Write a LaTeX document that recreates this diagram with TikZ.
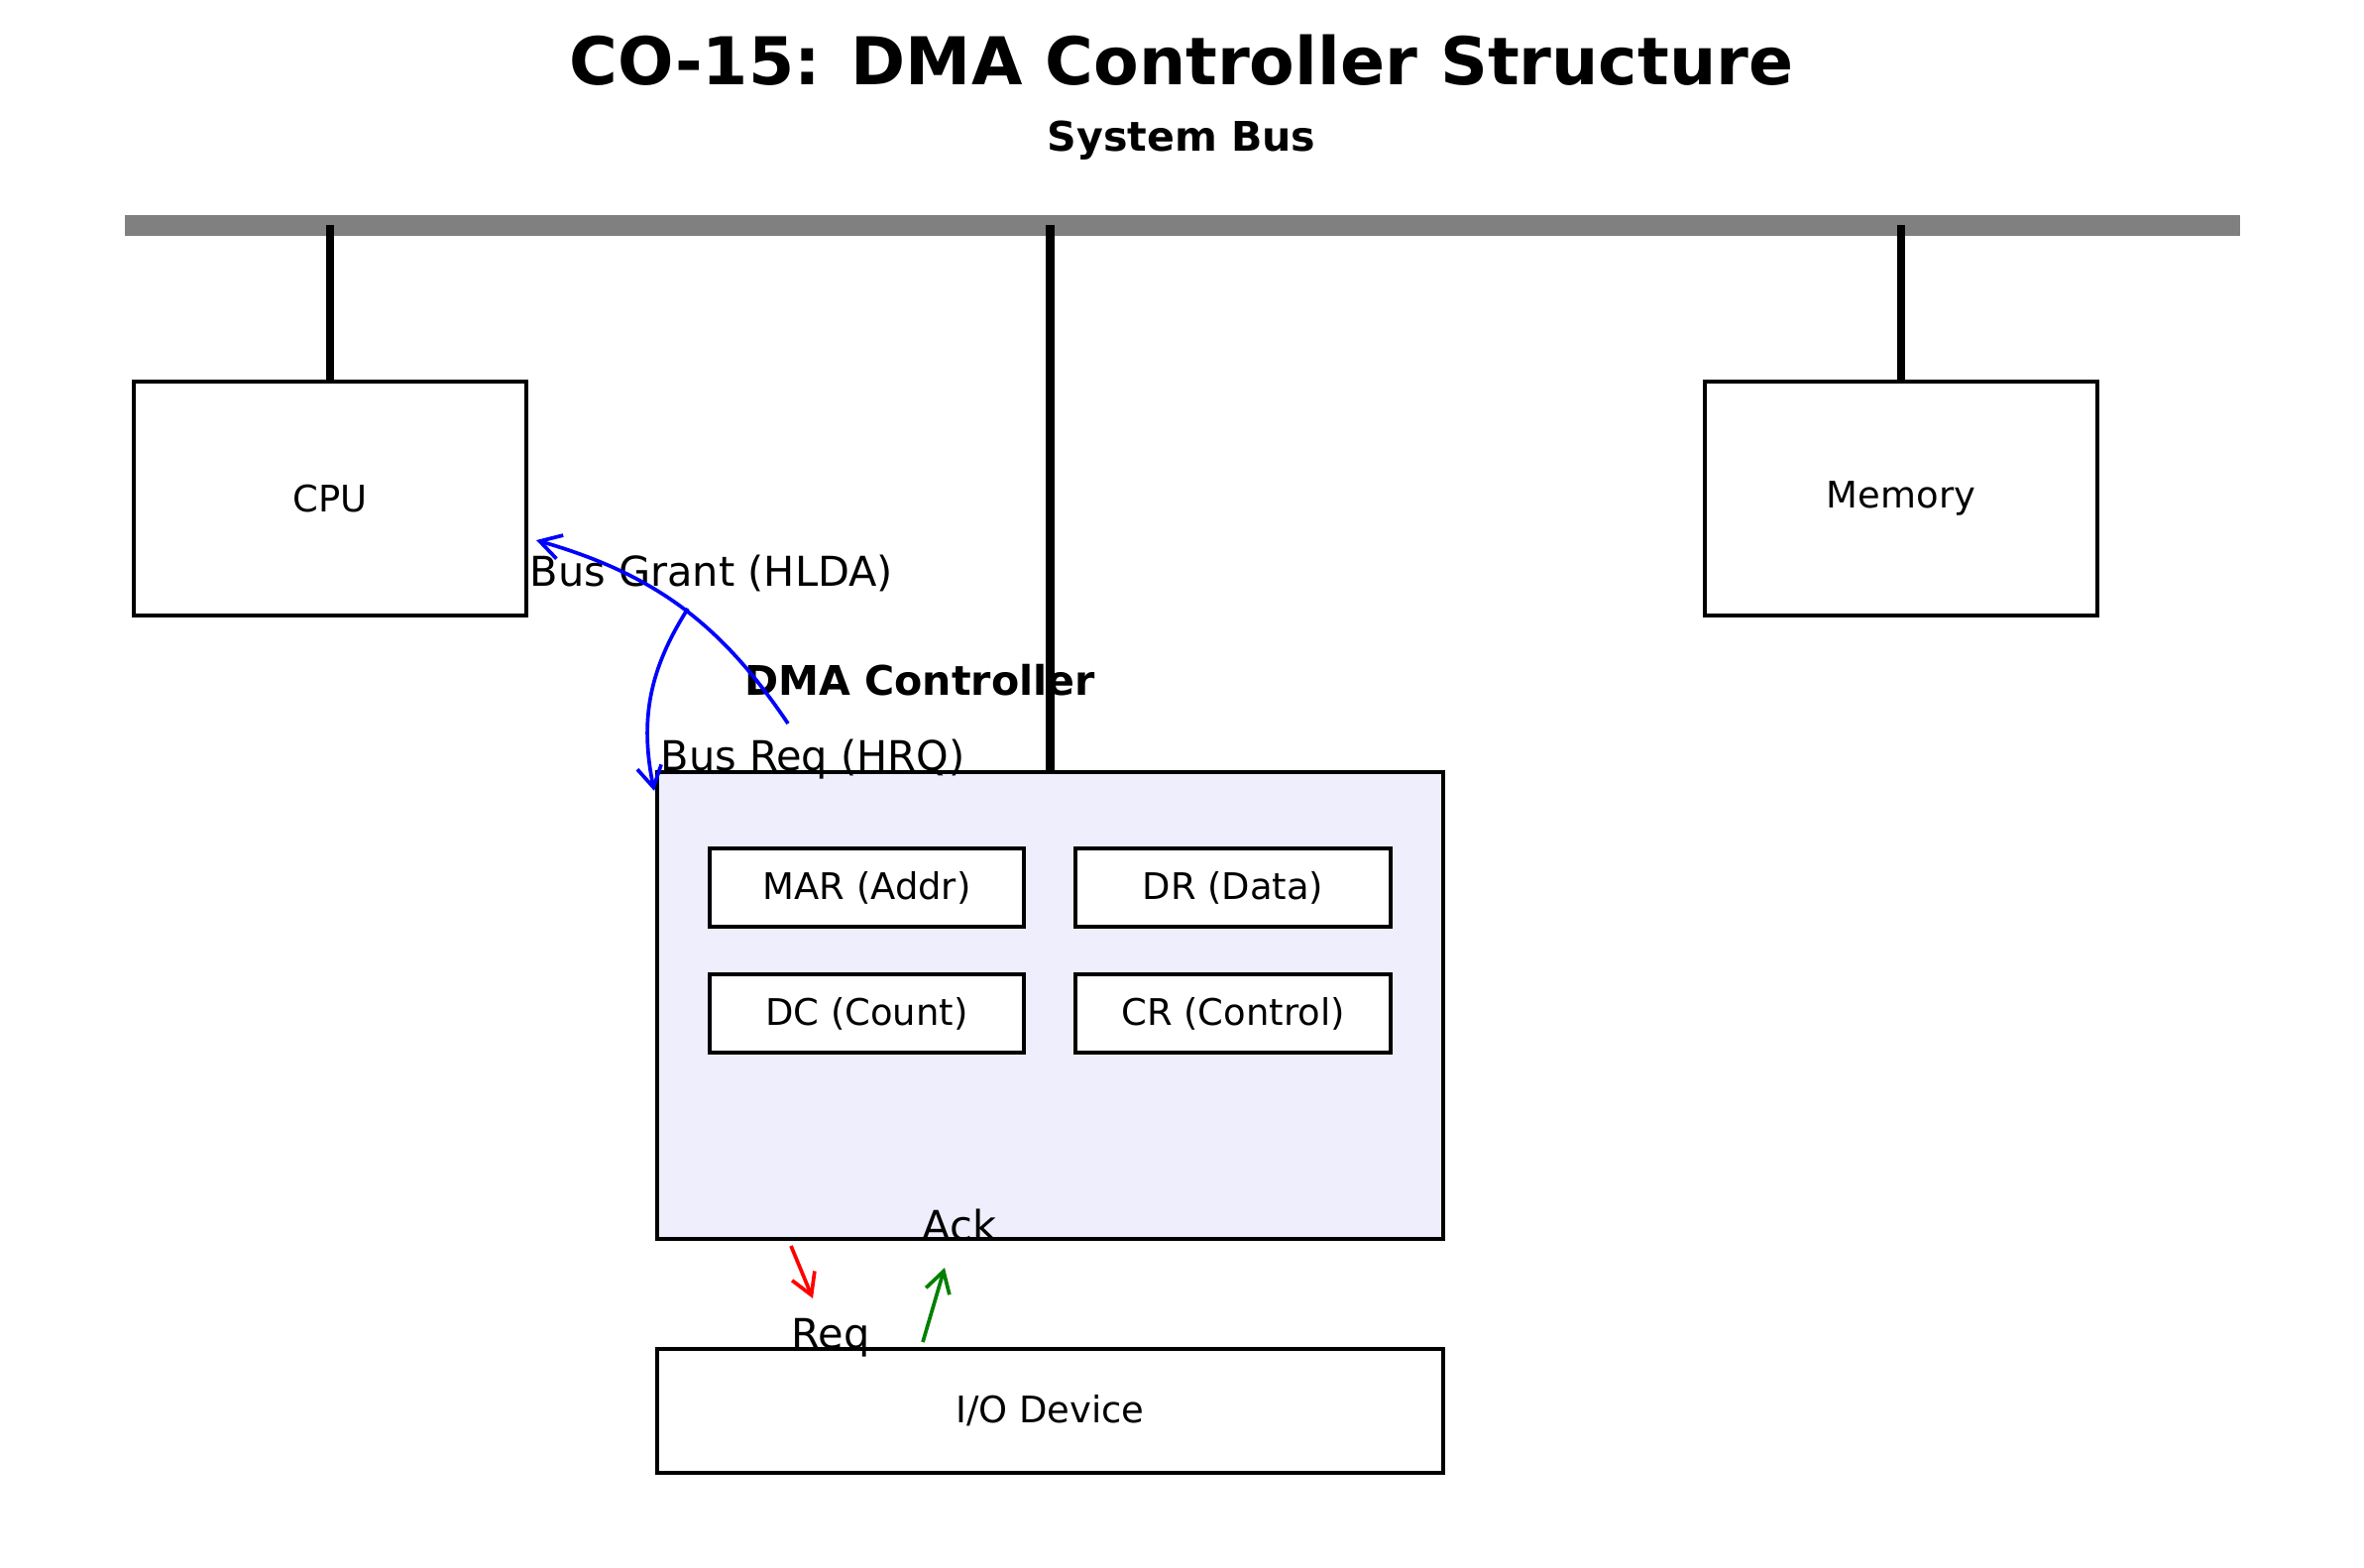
\documentclass[tikz,border=0pt]{standalone}
\usepackage{fontspec}
\setmainfont{DejaVu Sans}
\usetikzlibrary{arrows,arrows.meta}

\definecolor{busgray}{RGB}{128,128,128}
\definecolor{dmafill}{RGB}{238,238,252}
\definecolor{ackgreen}{RGB}{0,128,0}

\begin{document}
\begin{tikzpicture}[
x=0.01cm, y=0.01cm,
obj/.style={draw, line width=1.1pt, inner sep=0pt, font=\fontsize{10.5}{12}\selectfont},
unit/.style={obj, minimum width=3.96cm, minimum height=2.36cm},
reg/.style={obj, fill=white, minimum width=3.17cm, minimum height=0.79cm},
heading/.style={font=\fontsize{11.7}{14}\selectfont\bfseries, inner sep=0pt, anchor=base},
arrowlabel/.style={font=\fontsize{11.8}{14}\selectfont, inner sep=0pt, anchor=base west},
bus/.style={line width=0.21cm, busgray},
stub/.style={line width=2.5pt},
arrow/.style={-{Straight Barb[length=6pt,width=7pt]}, line width=1.05pt} ]

\useasboundingbox (0,0) rectangle (2385,-1581);

\node[font=\fontsize{18.9}{22}\selectfont\bfseries, inner sep=0pt, anchor=base] (T) at (1192,-85) {CO-15: DMA Controller Structure};

\node[heading] (SB) at (1192,-152) {System Bus};

\coordinate (BL) at (126,-227);

\coordinate (BR) at (2260,-227);

\draw[bus] (BL) -- (BR);

\node[unit] (CPU) at (333,-503) {CPU};

\node[unit] (MEM) at (1918,-503) {Memory};

\node[obj, fill=dmafill, minimum width=7.93cm, minimum height=4.71cm] (DMA) at (1059.5,-1014.5) {};

\node[reg] (MAR) at (874.5,-895.5) {MAR (Addr)};

\node[reg] (DR) at (1244,-895.5) {DR (Data)};

\node[reg] (DC) at (874.5,-1022.5) {DC (Count)};

\node[reg] (CR) at (1244,-1022.5) {CR (Control)};

\node[obj, minimum width=7.93cm, minimum height=1.25cm] (IO) at (1059.5,-1423.5) {I/O Device};

\draw[stub] (CPU.north |- BL) -- (CPU.north);

\draw[stub] (MEM.north |- BL) -- (MEM.north);

\draw[stub] (DMA.north |- BL) -- (DMA.north);

\node[heading] (DT) at (928,-701) {DMA Controller};

\node[arrowlabel] (HLDA) at (534,-591) {Bus Grant (HLDA)};

\node[arrowlabel] (HRQ) at (666,-777) {Bus Req (HRQ)};

\node[arrowlabel] (ACK) at (930,-1251) {Ack};

\node[arrowlabel] (REQ) at (798,-1360) {Req};

\coordinate (G1) at (795,-730);

\coordinate (G2) at (541,-545);

\coordinate (H1) at (694,-614);

\coordinate (H2) at (660,-798);

\coordinate (R1) at (798,-1257);

\coordinate (R2) at (820,-1310);

\coordinate (A1) at (931,-1354);

\coordinate (A2) at (953,-1279);

\draw[arrow, blue] (G1) to[bend right=20] (G2);

\draw[arrow, blue] (H1) to[bend right=22] (H2);

\draw[arrow, red] (R1) -- (R2);

\draw[arrow, ackgreen] (A1) -- (A2);

\end{tikzpicture}
\end{document}
